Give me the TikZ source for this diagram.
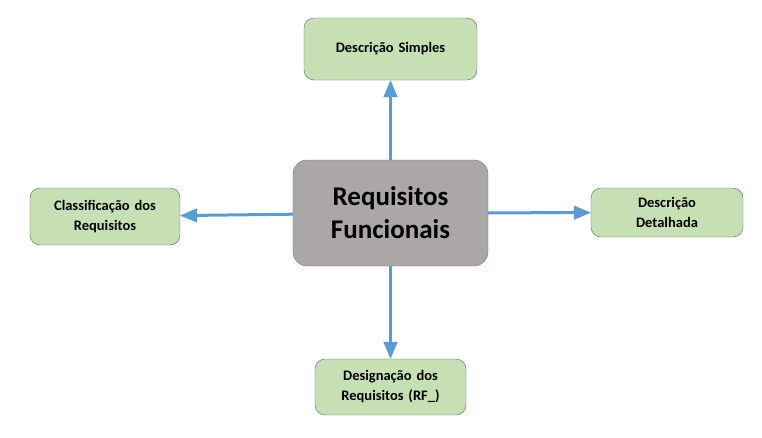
\documentclass[tikz,border=0pt]{standalone}
\usepackage{fontspec}
\setmainfont{Carlito}
\usetikzlibrary{arrows}
\definecolor{leafgreen}{HTML}{C6E0B4}
\definecolor{leafedge}{HTML}{4F6F5F}
\definecolor{coregrey}{HTML}{ABA7A7}
\definecolor{coreedge}{HTML}{777373}
\definecolor{arrowblue}{HTML}{5B9BD5}
\tikzstyle{core} = [rectangle, rounded corners=14pt, minimum width=195pt, minimum height=106pt, text width=180pt, text centered, draw=coreedge, fill=coregrey, font=\fontsize{27}{33}\selectfont\bfseries]
\tikzstyle{leaf} = [rectangle, rounded corners=10pt, minimum width=151pt, minimum height=56pt, text width=136pt, text centered, draw=leafedge, fill=leafgreen, font=\fontsize{14.5}{20}\selectfont\bfseries]
\tikzstyle{arrow} = [line width=3pt, draw=arrowblue, ->, >=triangle 45]
\begin{document}
\begin{tikzpicture}[x=1pt, y=1pt, node distance=164pt]
		\useasboundingbox (-390.5,-224) rectangle (371.5,213);
		\node (req) [core] {Requisitos\\Funcionais};
		\node (simples) [leaf, above of=req, minimum width=173pt, minimum height=62pt] {Descrição Simples};
		\node (classif) [leaf, left of=req, xshift=-121.5pt, yshift=-3.5pt, minimum width=150pt, minimum height=57pt] {Classificação dos\\Requisitos};
		\node (detalhe) [leaf, right of=req, xshift=112.5pt, yshift=0.5pt, minimum width=152pt, minimum height=49pt] {Descrição\\Detalhada};
		\node (design) [leaf, below of=req, yshift=-10pt] {Designação dos\\Requisitos (RF\_)};
		\draw [arrow] (req) -- (simples);
		\draw [arrow] (req) -- (classif);
		\draw [arrow] (req) -- (detalhe);
		\draw [arrow] (req) -- (design);
	\end{tikzpicture}
\end{document}
